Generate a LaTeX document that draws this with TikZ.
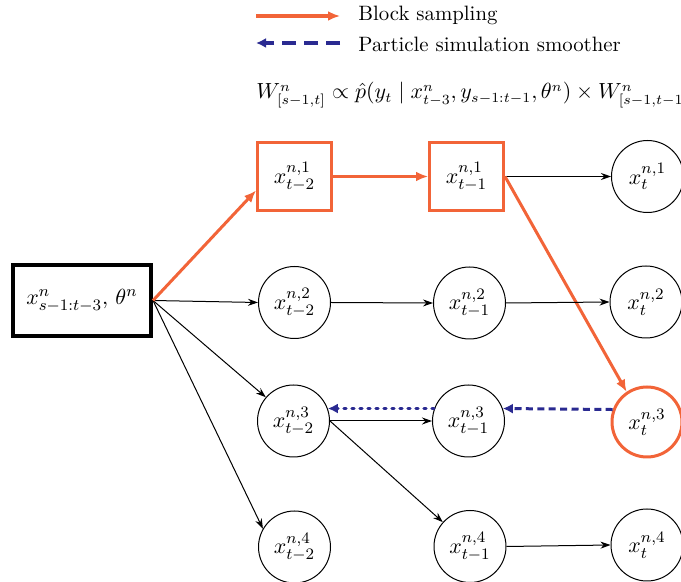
\documentclass[tikz,border=0pt]{standalone}
\usetikzlibrary{arrows.meta}
\definecolor{bsorange}{RGB}{242,100,56}
\definecolor{psblue}{RGB}{42,42,145}
\begin{document}
\begin{tikzpicture}[x=0.5pt,y=-0.5pt,
  every node/.style={font=\fontsize{10.9}{13}\selectfont},
  circ/.style={circle,draw,line width=0.5pt,minimum size=36pt,inner sep=0pt},
  osq/.style={rectangle,draw=bsorange,line width=1.5pt,minimum width=37pt,minimum height=34pt,inner sep=0pt},
  ocirc/.style={circle,draw=bsorange,line width=1.5pt,minimum size=35pt,inner sep=0pt},
  rootbox/.style={rectangle,draw,line width=2pt,minimum width=69pt,minimum height=35.5pt,inner sep=0pt},
  thinarrow/.style={-{Stealth[length=5pt,width=3.5pt]},line width=0.5pt},
  orangearrow/.style={-{Latex[length=6pt,width=5pt]},draw=bsorange,line width=1.5pt},
  bluearrow/.style={-{Latex[length=5pt,width=5pt]},draw=psblue,line width=1.5pt},
  plain/.style={inner sep=0pt,anchor=base west},
  legtext/.style={plain,font=\fontsize{10.4}{12}\selectfont}
]
\useasboundingbox (0,0) rectangle (681,582);
\clip (0,0) rectangle (681,582);
% legend
\coordinate (l1a) at (256,16);
\coordinate (l1b) at (340,16);
\coordinate (l2a) at (340,43);
\coordinate (l2b) at (256,43);
\draw[orangearrow,line width=2pt] (l1a) -- (l1b);
\draw[bluearrow,line width=2pt,dash pattern=on 7pt off 4pt] (l2a) -- (l2b);
\node[legtext] (t1) at (358,21) {Block sampling};
\node[legtext] (t2) at (358,52) {Particle simulation smoother};
\node[plain,font=\fontsize{10.7}{13}\selectfont] (f) at (256,99) {$W^n_{[s-1,t]} \propto \hat{p}(y_t \mid x^n_{t-3}, y_{s-1:t-1}, \theta^n) \times W^n_{[s-1,t-1]}$};
% nodes
\node[rootbox] (root) at (82,300.5) {$x^n_{s-1:t-3},\,\theta^n$};
\node[osq] (a1) at (294.5,176.5) {$x^{n,1}_{t-2}$};
\node[osq] (a2) at (466.5,176.5) {$x^{n,1}_{t-1}$};
\node[circ] (e1) at (647.5,176.5) {$x^{n,1}_{t}$};
\node[circ] (b2) at (294.5,302.5) {$x^{n,2}_{t-2}$};
\node[circ] (m2) at (469.5,303) {$x^{n,2}_{t-1}$};
\node[circ] (e2) at (646,302) {$x^{n,2}_{t}$};
\node[circ] (b3) at (293.5,421) {$x^{n,3}_{t-2}$};
\node[circ] (m3) at (468.5,421) {$x^{n,3}_{t-1}$};
\node[ocirc] (e3) at (647,422) {$x^{n,3}_{t}$};
\node[circ] (b4) at (294.5,547) {$x^{n,4}_{t-2}$};
\node[circ] (m4) at (470,546.5) {$x^{n,4}_{t-1}$};
\node[circ] (e4) at (647,545) {$x^{n,4}_{t}$};
% edges
\draw[thinarrow] (root.east) -- (b2.west);
\draw[thinarrow] (root.east) -- (b3);
\draw[thinarrow] (root.east) -- (b4.150);
\draw[orangearrow] (root.east) -- (a1.200);
\draw[orangearrow] (a1.east) -- (a2.west);
\draw[thinarrow] (a2.east) -- (e1.west);
\draw[orangearrow] (a2.east) -- (e3.124);
\draw[thinarrow] (b2.east) -- (m2.west);
\draw[thinarrow] (m2.east) -- (e2.west);
\draw[thinarrow] (b3.east) -- (m3.west);
\draw[thinarrow] (b3.east) -- (m4);
\draw[thinarrow] (m4.east) -- (e4.west);
\draw[bluearrow,dash pattern=on 3.5pt off 2.2pt] (e3.160) -- (m3.20);
\draw[bluearrow,line cap=round,dash pattern=on 1.2pt off 2.8pt] (m3.160) -- (b3.20);
\end{tikzpicture}
\end{document}
